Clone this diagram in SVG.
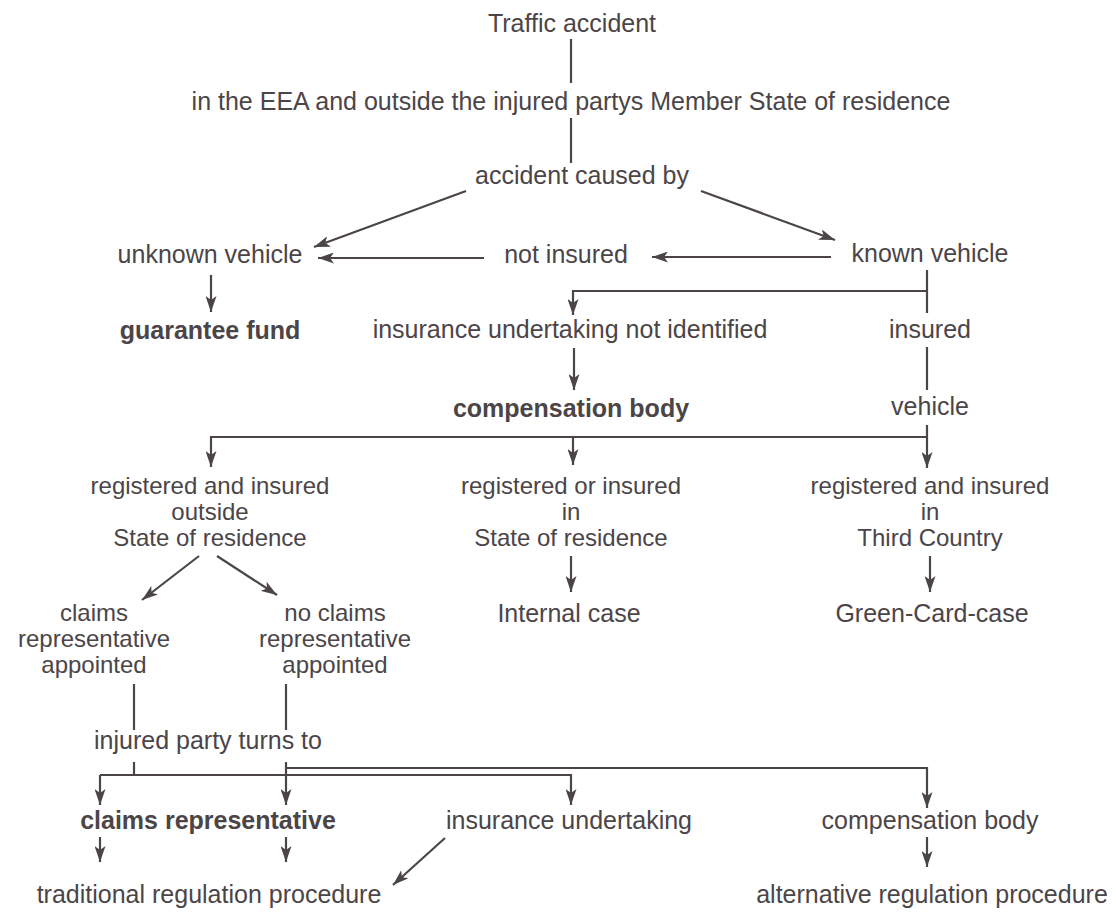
<svg xmlns="http://www.w3.org/2000/svg" width="1115" height="914" viewBox="0 0 1115 914">
<defs>
<style>
text { font-family: "Liberation Sans", Arial, sans-serif; font-size: 25px; fill: #4b4548; text-anchor: middle; }
.m { font-size: 24px; }
.b { font-weight: bold; }
.c { stroke: #4b4548; stroke-width: 2.2; fill: none; }
.a { marker-end: url(#ah); }
</style>
<marker id="ah" viewBox="0 0 16 11" refX="16" refY="5.5" markerWidth="16" markerHeight="11" markerUnits="userSpaceOnUse" orient="auto"><path d="M0,0 L16,5.5 L0,11 L4,5.5 z" fill="#4b4548"/></marker>
</defs>
<rect width="1115" height="914" fill="#ffffff"/>
<g id="connectors">
<path class="c" d="M571,39 V83"/>
<path class="c" d="M571,118 V163"/>
<path class="c a" d="M466,191 L314,247"/>
<path class="c a" d="M701,191 L835,240"/>
<path class="c a" d="M831,257 H652"/>
<path class="c a" d="M484,258 H318"/>
<path class="c a" d="M211,275 V312"/>
<path class="c" d="M927,270 V313"/>
<path class="c a" d="M927,291 H573 V315"/>
<path class="c a" d="M574,348 V390"/>
<path class="c" d="M927,347 V390"/>
<path class="c a" d="M927,425 V468"/>
<path class="c a" d="M927,437 H211 V467"/>
<path class="c a" d="M573,437 V465"/>
<path class="c a" d="M199,556 L142,600"/>
<path class="c a" d="M217,556 L277,595"/>
<path class="c a" d="M571,556 V592"/>
<path class="c a" d="M930,556 V592"/>
<path class="c" d="M134,684 V730"/>
<path class="c" d="M286,684 V730"/>
<path class="c" d="M134,762 V775"/>
<path class="c a" d="M100,775 H571 V805"/>
<path class="c a" d="M100,775 V805"/>
<path class="c a" d="M286,762 V805"/>
<path class="c a" d="M286,768 H927 V808"/>
<path class="c a" d="M100,837 V862"/>
<path class="c a" d="M286,837 V862"/>
<path class="c a" d="M445,838 L393,885"/>
<path class="c a" d="M927,837 V867"/>
</g>
<g id="n1"><text x="572" y="32">Traffic accident</text></g>
<g id="n2"><text x="571" y="110">in the EEA and outside the injured partys Member State of residence</text></g>
<g id="n3"><text x="582" y="184">accident caused by</text></g>
<g id="n4"><text x="210" y="263">unknown vehicle</text></g>
<g id="n5"><text x="566" y="263">not insured</text></g>
<g id="n6"><text x="930" y="262">known vehicle</text></g>
<g id="n7"><text class="b" x="210" y="339">guarantee fund</text></g>
<g id="n8"><text x="570" y="338">insurance undertaking not identified</text></g>
<g id="n9"><text x="930" y="338">insured</text></g>
<g id="n10"><text class="b" x="571" y="417">compensation body</text></g>
<g id="n11"><text x="930" y="415">vehicle</text></g>
<g id="n12"><text class="m" x="210" y="494">registered and insured</text><text class="m" x="210" y="520">outside</text><text class="m" x="210" y="546">State of residence</text></g>
<g id="n13"><text class="m" x="571" y="494">registered or insured</text><text class="m" x="571" y="520">in</text><text class="m" x="571" y="546">State of residence</text></g>
<g id="n14"><text class="m" x="930" y="494">registered and insured</text><text class="m" x="930" y="520">in</text><text class="m" x="930" y="546">Third Country</text></g>
<g id="n15"><text class="m" x="94" y="621">claims</text><text class="m" x="94" y="647">representative</text><text class="m" x="94" y="673">appointed</text></g>
<g id="n16"><text class="m" x="335" y="621">no claims</text><text class="m" x="335" y="647">representative</text><text class="m" x="335" y="673">appointed</text></g>
<g id="n17"><text x="569" y="622">Internal case</text></g>
<g id="n18"><text x="932" y="622">Green-Card-case</text></g>
<g id="n19"><text x="208" y="749">injured party turns to</text></g>
<g id="n20"><text class="b" x="208" y="829">claims representative</text></g>
<g id="n21"><text x="569" y="829">insurance undertaking</text></g>
<g id="n22"><text x="930" y="829">compensation body</text></g>
<g id="n23"><text x="209" y="903">traditional regulation procedure</text></g>
<g id="n24"><text x="932" y="903">alternative regulation procedure</text></g>
</svg>
